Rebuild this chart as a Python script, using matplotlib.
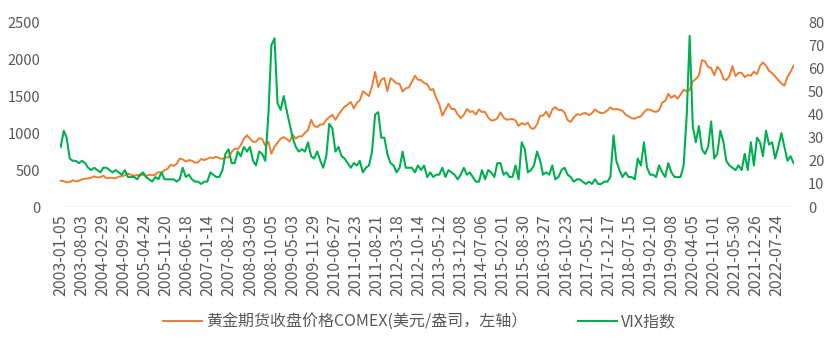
import pandas as pd
import matplotlib
matplotlib.use("Agg")
import matplotlib.pyplot as plt

plt.rcParams["font.family"] = ["Noto Sans CJK SC", "DejaVu Sans"]

# monthly readings, Jan 2003 .. Jan 2023
gold = [
    356, 350, 335, 337, 362, 347, 355, 375, 385, 386, 398, 415,
    400, 405, 425, 390, 395, 395, 390, 410, 418, 428, 453, 438,
    422, 435, 428, 435, 418, 437, 430, 437, 472, 465, 495, 518,
    570, 557, 584, 655, 645, 615, 635, 625, 600, 605, 650, 635,
    652, 670, 663, 680, 660, 650, 667, 672, 745, 790, 785, 835,
    925, 970, 925, 880, 885, 930, 920, 830, 885, 720, 815, 870,
    925, 945, 920, 885, 980, 925, 955, 955, 1005, 1040, 1180, 1095,
    1080, 1118, 1115, 1180, 1215, 1245, 1180, 1248, 1308, 1357, 1385, 1420,
    1332, 1410, 1440, 1565, 1535, 1500, 1630, 1825, 1620, 1720, 1745, 1565,
    1740, 1710, 1670, 1665, 1560, 1605, 1615, 1690, 1775, 1720, 1715, 1675,
    1660, 1580, 1595, 1475, 1390, 1235, 1315, 1395, 1325, 1325, 1250, 1202,
    1245, 1325, 1285, 1295, 1250, 1320, 1285, 1285, 1210, 1170, 1175, 1200,
    1280, 1210, 1180, 1185, 1190, 1170, 1095, 1135, 1115, 1140, 1065, 1060,
    1115, 1235, 1235, 1290, 1215, 1320, 1350, 1310, 1315, 1275, 1175, 1150,
    1210, 1255, 1245, 1265, 1270, 1240, 1270, 1320, 1285, 1270, 1275, 1305,
    1345, 1318, 1325, 1315, 1300, 1250, 1225, 1200, 1195, 1215, 1225, 1280,
    1320, 1315, 1295, 1285, 1310, 1410, 1435, 1530, 1475, 1510, 1465, 1520,
    1585, 1565, 1580, 1700, 1730, 1780, 1985, 1970, 1890, 1880, 1780, 1895,
    1850, 1730, 1715, 1770, 1905, 1770, 1815, 1815, 1755, 1785, 1775, 1830,
    1795, 1910, 1955, 1910, 1840, 1810, 1765, 1715, 1670, 1640, 1760, 1825,
    1910,
]
vix = [
    26, 33, 30, 21, 20, 20, 19, 20, 19, 17, 16, 17,
    16, 15, 17, 17, 16, 15, 16, 15, 14, 16, 13, 13,
    13, 12, 14, 15, 13, 12, 11, 13, 12, 15, 12, 12,
    12, 12, 11, 12, 17, 13, 14, 12, 11, 11, 10, 11,
    11, 15, 14, 13, 13, 16, 23, 25, 19, 19, 24, 22,
    26, 24, 26, 20, 18, 24, 23, 20, 40, 70, 73, 45,
    42, 48, 42, 36, 30, 26, 24, 25, 24, 28, 22, 21,
    24, 20, 17, 22, 36, 34, 24, 26, 22, 21, 19, 17,
    19, 18, 20, 15, 17, 18, 24, 40, 41, 30, 30, 23,
    19, 18, 15, 17, 24, 17, 17, 17, 15, 18, 16, 18,
    13, 15, 13, 14, 14, 17, 13, 16, 15, 14, 12, 14,
    17, 14, 15, 13, 11, 11, 16, 12, 16, 15, 13, 19,
    19, 14, 15, 13, 13, 18, 12, 28, 25, 15, 16, 18,
    24, 20, 14, 15, 14, 18, 12, 13, 16, 17, 14, 13,
    11, 12, 12, 11, 10, 11, 10, 12, 10, 10, 11, 11,
    13, 31, 20, 16, 13, 15, 13, 13, 12, 21, 18, 28,
    17, 14, 14, 13, 18, 15, 13, 19, 15, 13, 13, 13,
    18, 40, 74, 35, 28, 35, 25, 23, 26, 37, 21, 23,
    33, 28, 20, 18, 17, 16, 18, 16, 23, 16, 28, 18,
    30, 28, 22, 33, 27, 28, 21, 26, 32, 26, 20, 22,
    19,
]
tick_labels = [
    "2003-01-05", "2003-08-03", "2004-02-29", "2004-09-26", "2005-04-24",
    "2005-11-20", "2006-06-18", "2007-01-14", "2007-08-12", "2008-03-09",
    "2008-10-05", "2009-05-03", "2009-11-29", "2010-06-27", "2011-01-23",
    "2011-08-21", "2012-03-18", "2012-10-14", "2013-05-12", "2013-12-08",
    "2014-07-06", "2015-02-01", "2015-08-30", "2016-03-27", "2016-10-23",
    "2017-05-21", "2017-12-17", "2018-07-15", "2019-02-10", "2019-09-08",
    "2020-04-05", "2020-11-01", "2021-05-30", "2021-12-26", "2022-07-24",
]
gold_name = "黄金期货收盘价格COMEX(美元/盎司，左轴）"
vix_name = "VIX指数"

dates = pd.date_range("2003-01-01", periods=len(gold), freq="MS") + pd.Timedelta(days=4)
ticks = pd.to_datetime(tick_labels)

txt = "#595959"
fig = plt.figure(figsize=(8.39, 3.44), dpi=100)
ax = fig.add_axes([0.0715, 0.398, 0.875, 0.538])
ax2 = ax.twinx()

l1, = ax.plot(dates, gold, color="#ED7D31", lw=1.4, label=gold_name)
l2, = ax2.plot(dates, vix, color="#00B050", lw=1.5, label=vix_name)

ax.set_ylim(0, 2500)
ax.set_yticks(range(0, 2501, 500))
ax2.set_ylim(0, 80)
ax2.set_yticks(range(0, 81, 10))
ax.set_xlim(pd.Timestamp("2002-12-29"), pd.Timestamp("2023-01-10"))
ax.set_xticks(ticks)
ax.set_xticklabels(tick_labels, rotation=90)
ax.axhline(0, color="#D9D9D9", lw=1.0, zorder=0)

for a in (ax, ax2):
    for s in a.spines.values():
        s.set_visible(False)
    a.tick_params(length=0, labelsize=10.5, colors=txt)
ax.tick_params(axis="x", labelsize=11.5, pad=5)
ax.tick_params(axis="y", pad=14)
ax2.tick_params(axis="y", pad=10)

fig.legend(handles=[l1, l2], loc="center", bbox_to_anchor=(0.5, 0.063), ncol=2,
           frameon=False, fontsize=11.5, labelcolor=txt, handlelength=2.4,
           handletextpad=0.25, columnspacing=3.2)

fig.savefig("out.png", dpi=100)
